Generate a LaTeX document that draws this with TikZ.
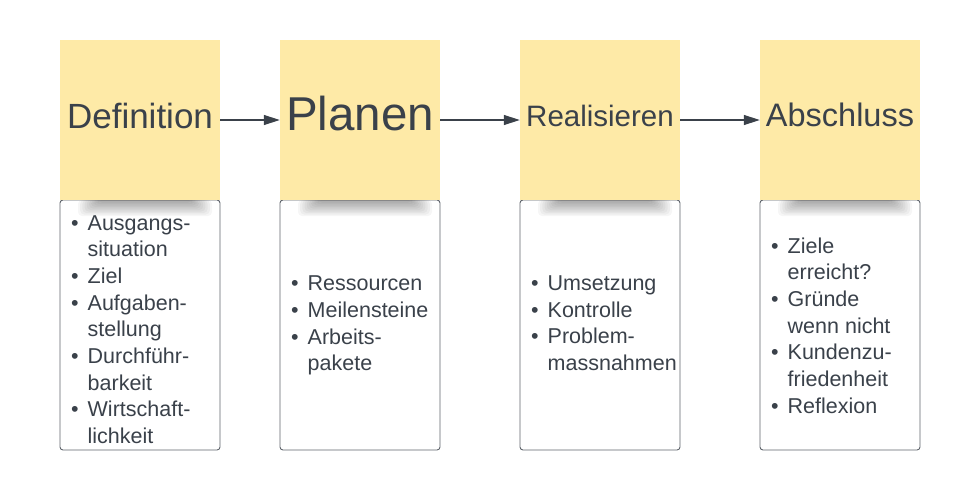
\documentclass[tikz,border=0pt]{standalone}
\usepackage{fontspec}
\setmainfont{Liberation Sans}
\usetikzlibrary{arrows.meta}
\definecolor{notefill}{HTML}{FEEAA7}
\definecolor{inktext}{HTML}{3A414A}
\definecolor{boxline}{HTML}{5F646B}
\newcommand{\bl}{\makebox[16.5pt][l]{\textbullet}}
\newenvironment{blist}{\fontsize{21.5}{26.7}\selectfont\begin{tabular}{@{}l@{}l@{}}}{\end{tabular}}
\newcommand{\noteshadow}[1]{%
  \foreach \i in {0,...,9}{%
    \fill[black,opacity=0.035,rounded corners=4pt]
      ({#1-62+\i*2.2},200) rectangle ({#1+72-\i*2.2},{216-\i*1.5});
  }}
\begin{document}
\begin{tikzpicture}[x=1pt,y=-1pt,
  notebox/.style={draw=none,fill=notefill,minimum width=160pt,minimum height=160pt,inner sep=0pt},
  listbox/.style={draw=boxline,line width=0.9pt,fill=white,rounded corners=3pt,minimum width=160pt,minimum height=250pt,inner sep=0pt},
  title/.style={text=inktext,anchor=base,inner sep=0pt},
  items/.style={text=inktext,anchor=west,inner sep=0pt,align=left},
  flow/.style={draw=inktext,line width=1.1pt,-{Triangle[length=16pt,width=10pt]}}]
\useasboundingbox (0,0) rectangle (980,490);
% lower boxes
\node[listbox] (b1) at (140,325) {};
\node[listbox] (b2) at (360,325) {};
\node[listbox] (b3) at (600,325) {};
\node[listbox] (b4) at (840,325) {};
% shadows of the sticky notes
\noteshadow{140}
\noteshadow{360}
\noteshadow{600}
\noteshadow{840}
% sticky notes
\node[notebox] (n1) at (140,120) {};
\node[notebox] (n2) at (360,120) {};
\node[notebox] (n3) at (600,120) {};
\node[notebox] (n4) at (840,120) {};
% titles
\node[title,font=\fontsize{35}{40}\selectfont] (t1) at (140,128.3) {Definition};
\node[title,font=\fontsize{47.5}{52}\selectfont] (t2) at (360,130) {Planen};
\node[title,font=\fontsize{29.5}{34}\selectfont] (t3) at (600,126.7) {Realisieren};
\node[title,font=\fontsize{32.5}{36}\selectfont] (t4) at (840,126.7) {Abschluss};
% arrows
\draw[flow] (n1.east) -- (n2.west);
\draw[flow] (n2.east) -- (n3.west);
\draw[flow] (n3.east) -- (n4.west);
% lists
\node[items] (l1) at (71,331.5) {\begin{blist}
\bl & Ausgangs-\\ & situation\\ \bl & Ziel\\ \bl & Aufgaben-\\ & stellung\\
\bl & Durchführ-\\ & barkeit\\ \bl & Wirtschaft-\\ & lichkeit
\end{blist}};
\node[items] (l2) at (291,325.5) {\begin{blist}
\bl & Ressourcen\\ \bl & Meilensteine\\ \bl & Arbeits-\\ & pakete
\end{blist}};
\node[items] (l3) at (531,325.2) {\begin{blist}
\bl & Umsetzung\\ \bl & Kontrolle\\ \bl & Problem-\\ & massnahmen
\end{blist}};
\node[items] (l4) at (771,327.8) {\begin{blist}
\bl & Ziele\\ & erreicht?\\ \bl & Gründe\\ & wenn nicht\\ \bl & Kundenzu-\\ & friedenheit\\ \bl & Reflexion
\end{blist}};
\end{tikzpicture}
\end{document}
